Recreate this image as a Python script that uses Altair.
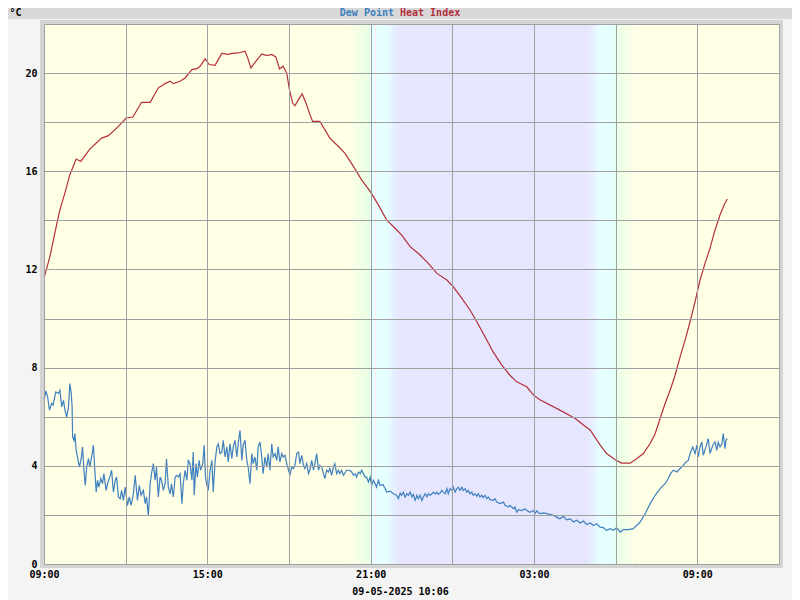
import altair as alt
import pandas as pd

# Heat index (minutes after 09:00 on 08-05-2025, degC)
hi_min = [0, 2, 13, 24, 35, 46, 57, 71, 81, 101, 127, 142, 164, 181, 196, 215, 234, 252, 267, 278, 285,
          300, 311, 326, 337, 344, 355, 364, 377, 384, 392, 406, 414, 428, 443, 449, 456, 467, 480, 491,
          502, 511, 519, 527, 535, 541, 548, 553, 561, 569, 578, 585, 592, 608, 630, 649, 663, 682, 700,
          719, 737, 755, 774, 788, 807, 829, 847, 866, 888, 902, 921, 939, 954, 972, 990, 1009, 1027,
          1042, 1064, 1079, 1092, 1137, 1170, 1204, 1226, 1240, 1259, 1273, 1292, 1306, 1321, 1336,
          1347, 1358, 1369, 1380, 1391, 1402, 1413, 1424, 1435, 1446, 1457, 1468, 1479, 1490, 1499, 1506]
hi_val = [11.7, 11.78, 12.52, 13.49, 14.43, 15.11, 15.86, 16.50, 16.40, 16.9, 17.35, 17.45, 17.83, 18.17,
          18.21, 18.81, 18.81, 19.4, 19.57, 19.67, 19.57, 19.67, 19.8, 20.14, 20.18, 20.28, 20.58, 20.35,
          20.32, 20.55, 20.8, 20.76, 20.8, 20.82, 20.89, 20.62, 20.21, 20.48, 20.78, 20.71, 20.76, 20.66,
          20.17, 20.28, 20.0, 19.33, 18.78, 18.67, 18.92, 19.16, 18.75, 18.37, 18.03, 18.03, 17.35, 17.01,
          16.74, 16.2, 15.65, 15.18, 14.63, 14.02, 13.68, 13.41, 12.93, 12.59, 12.25, 11.84, 11.57, 11.3,
          10.82, 10.35, 9.87, 9.26, 8.64, 8.1, 7.69, 7.42, 7.22, 6.88, 6.7, 6.27, 5.94, 5.45, 4.84, 4.5,
          4.25, 4.11, 4.11, 4.29, 4.5, 4.91, 5.31, 5.93, 6.54, 7.08, 7.69, 8.44, 9.12, 9.87, 10.69, 11.57,
          12.25, 12.87, 13.61, 14.22, 14.63, 14.87]

# Dew point (minutes after 09:00, degC)
dp_min = [0, 1, 4, 8, 12, 17, 20, 26, 32, 35, 39, 43, 46, 50, 54, 57, 60, 62, 63, 66, 68, 71, 73, 78, 82,
          85, 88, 91, 94, 98, 101, 105, 109, 112, 115, 118, 121, 125, 129, 132, 137, 140, 145, 149, 153,
          157, 160, 164, 168, 171, 175, 179, 184, 188, 192, 197, 201, 206, 210, 214, 219, 223, 226, 230,
          234, 237, 241, 245, 248, 252, 256, 259, 263, 267, 270, 274, 278, 281, 285, 289, 292, 296, 300,
          304, 307, 311, 315, 318,
          322, 326, 329, 331, 335, 338, 342, 345, 350, 353, 356, 359, 362, 366, 370, 373, 377, 381, 384,
          388, 392, 395, 399, 403, 406, 410, 414, 417, 421, 425, 428, 432, 436, 439, 443, 447, 450, 454,
          458, 461, 465, 469, 472, 476, 480, 483, 487, 491, 494, 498, 502, 505, 509, 513, 516, 520, 524,
          527, 531, 535, 539, 542, 546, 550, 553, 557, 561, 564, 568, 572, 575, 579, 583, 586, 590, 594,
          597, 601, 605, 608, 612, 616, 619, 623, 627, 630, 634, 638, 641, 645, 649, 652, 656, 660, 667,
          674, 678, 682, 686, 689, 693, 697, 700, 704, 708, 711, 715, 719, 722, 726, 730, 733, 737,
          741, 747, 752, 755, 763, 770, 777, 781, 785, 788, 792, 796, 800, 803, 807, 811, 814, 818, 822,
          825, 829, 833, 836, 840, 844, 847, 851, 855, 858, 862, 866, 869, 873, 877, 880, 884, 888, 891,
          895, 899, 902, 906, 910, 913, 917, 921, 924, 928, 932, 935, 939, 943, 946, 950, 954, 957, 961,
          965, 968, 972, 976, 979, 983, 990, 994, 998, 1005, 1013, 1016, 1024, 1027, 1035, 1038, 1042,
          1046, 1053, 1060, 1064, 1071, 1079, 1082, 1086, 1093, 1101, 1108, 1115, 1123, 1130, 1137, 1145,
          1152, 1160, 1167, 1174, 1182, 1189, 1196, 1204, 1211, 1218, 1226, 1233, 1240, 1248, 1255, 1262,
          1270, 1277, 1288, 1299, 1306,
          1314, 1325, 1336, 1347, 1358, 1369, 1376, 1381, 1387, 1395, 1402, 1409, 1415, 1420, 1424, 1430,
          1435, 1439, 1442, 1446, 1450, 1453, 1459, 1464, 1468, 1474, 1479, 1483, 1486, 1490, 1494, 1497,
          1501, 1503, 1506]
dp_val = [6.8, 6.74, 7.05, 6.81, 6.27, 6.54, 6.47, 7.01, 6.95, 7.08, 6.4, 6.67, 6.29, 5.99, 6.4, 7.35, 6.95,
          6.4, 5.18, 5.04, 5.31, 4.63, 4.43, 3.95, 4.29, 4.77, 3.82, 3.2, 3.95, 4.29, 3.95, 4.36, 4.84, 3.82,
          2.93, 3.41, 3.13, 3.48, 3.27, 3.68, 3.0, 3.27, 3.54, 3.82, 2.93, 3.41, 3.54, 2.73, 2.66, 3.0, 2.59,
          3.13, 2.39, 2.73, 2.39, 2.86, 3.61, 2.59, 3.2, 2.8, 3.0, 2.46, 2.73, 1.98, 3.27, 3.68, 4.09, 3.41,
          3.95, 2.73, 3.54, 3.41, 3.0, 3.27, 4.29, 3.13, 2.86, 3.27, 2.73, 3.54, 3.61, 3.54, 3.68, 2.46, 3.27,
          3.82, 3.41, 4.22,
          4.09, 3.41, 4.56, 2.8, 4.09, 3.54, 4.22, 3.82, 4.09, 4.84, 3.54, 3.2, 3.0, 3.82, 4.22, 2.93, 4.16,
          4.77, 4.9, 4.5, 4.56, 5.04, 4.36, 4.77, 4.16, 4.9, 4.29, 4.77, 5.04, 4.36, 4.9, 5.45, 4.22, 4.84,
          5.04, 4.22, 3.95, 3.27, 4.5, 4.09, 4.36, 3.82, 4.77, 4.97, 4.36, 3.68, 4.36, 3.95, 4.5, 3.82, 4.9,
          4.36, 4.5, 4.22, 4.77, 4.16, 4.5, 4.36, 4.43, 4.09, 3.82, 3.61, 3.95, 3.89, 4.02, 4.5, 4.56, 4.09,
          4.43, 4.02, 3.89, 4.09, 3.68, 3.82, 4.22, 3.82, 4.09, 4.5, 3.82, 4.02, 3.95, 3.68, 3.48, 3.82,
          3.75, 3.89, 3.61, 3.95, 4.09, 3.68, 3.82, 3.68, 3.82, 3.61, 3.82, 3.82, 3.75, 3.61, 3.68, 3.54,
          3.75, 3.68, 3.82, 3.68, 3.54, 3.54, 3.34, 3.54, 3.2, 3.41, 3.27, 3.13, 3.41,
          3.2, 3.24, 3.07, 2.93, 2.97, 2.86, 2.8, 2.66, 2.89, 2.8, 2.93, 2.73, 2.86, 2.8, 2.93, 2.73, 2.84,
          2.59, 2.8, 2.66, 2.8, 2.59, 2.73, 2.86, 2.73, 2.86, 2.8, 2.86, 2.93, 2.86, 2.93, 2.84, 2.89, 3.0,
          2.93, 2.86, 3.07, 2.86, 3.07, 3.0, 3.13, 2.93, 3.07, 3.13, 3.0, 3.13, 3.0, 3.07, 2.93, 3.0, 2.86,
          2.93, 2.8, 2.86, 2.76, 2.86, 2.73, 2.8, 2.7, 2.8, 2.66, 2.73, 2.62, 2.59, 2.66, 2.52, 2.46, 2.52,
          2.39, 2.32, 2.39, 2.25, 2.32, 2.11, 2.21, 2.18, 2.25, 2.18, 2.11, 2.18, 2.05, 2.16, 2.05, 2.08,
          2.05, 2.02, 1.98, 1.91, 1.84, 1.94, 1.8, 1.84, 1.71, 1.78, 1.67, 1.75, 1.61, 1.67, 1.57, 1.64, 1.5,
          1.48, 1.37, 1.44, 1.37, 1.48, 1.3, 1.4, 1.4, 1.44, 1.57,
          1.71, 2.05, 2.46, 2.8, 3.07, 3.27, 3.48, 3.68, 3.82, 3.75, 3.89, 4.02, 4.16, 4.22, 4.5, 4.77, 4.5,
          4.84, 4.36, 4.77, 4.97, 4.43, 4.77, 5.11, 4.5, 4.84, 4.97, 4.63, 4.97, 4.77, 4.9, 5.31, 4.7, 5.04,
          5.11]

# Background bands (minutes after 09:00)
band_kind = ["day", "dusk", "night", "dawn", "day"]
band_from = [0, 673, 782, 1196, 1306]
band_to = [673, 782, 1196, 1306, 1620]

x_domain = [0, 1620]                      # 09:00 -> 12:00 next day
x_grid = [0, 180, 360, 540, 720, 900, 1080, 1260, 1440, 1620]
y_grid = [0, 2, 4, 6, 8, 10, 12, 14, 16, 18, 20, 22]

DAY = "#ffffe6"
NIGHT = "#e6e6ff"
GREEN = "#e6ffe6"
CYAN = "#e6ffff"
PINK = "#ffe8ee"
BLUE = "#3f80bf"
RED = "#b3303a"
FONT = "DejaVu Sans Mono"

hi_df = pd.DataFrame({"m": hi_min, "v": hi_val})
dp_df = pd.DataFrame({"m": dp_min, "v": dp_val})
band_df = pd.DataFrame({"kind": band_kind, "m0": band_from, "m1": band_to})

x_scale = alt.Scale(domain=x_domain, nice=False, zero=False)
y_scale = alt.Scale(domain=[0, 22], nice=False)

hour_expr = "((9 + datum.value / 60) % 24)"
x_axis = alt.Axis(
    title="09-05-2025 10:06",
    values=x_grid,
    labelExpr=f"datum.value % 360 == 0 ? ({hour_expr} < 10 ? '0' : '') + {hour_expr} + ':00' : ''",
    labelFlush=False, labelOverlap=False, ticks=False, domain=False,
    grid=True, gridColor="#a0a0a0", gridWidth=1, gridOpacity=1,
    labelFont=FONT, labelFontWeight="bold", labelFontSize=10, labelColor="black", labelPadding=5,
    titleFont=FONT, titleFontWeight="bold", titleFontSize=10, titleColor="black",
    titleX=356, titleY=22, titleAlign="center", titleBaseline="top",
    zindex=1,
)
y_axis = alt.Axis(
    values=y_grid,
    labelExpr="datum.value % 4 == 0 ? datum.label : ''",
    ticks=False, domain=False, labelOverlap=False,
    grid=True, gridColor="#a0a0a0", gridWidth=1, gridOpacity=1,
    labelFont=FONT, labelFontWeight="bold", labelFontSize=10, labelColor="black", labelPadding=7,
    title="°C", titleAngle=0, titleX=-29, titleY=-12, titleAlign="center", titleBaseline="middle",
    titleFont=FONT, titleFontWeight="bold", titleFontSize=10, titleColor="black",
    zindex=1,
)


def grad(stops):
    return alt.LinearGradient(
        gradient="linear", x1=0, x2=1, y1=0, y2=0,
        stops=[alt.GradientStop(offset=o, color=c) for o, c in stops],
    )


dusk_grad = grad([(0.0, DAY), (0.42, GREEN), (0.44, CYAN), (0.52, CYAN), (0.53, PINK),
                  (0.545, CYAN), (0.75, CYAN), (1.0, NIGHT)])
dawn_grad = grad([(0.0, NIGHT), (0.27, CYAN), (0.57, CYAN), (0.58, GREEN), (1.0, DAY)])

solid_df = band_df[band_df["kind"].isin(["day", "night"])]
dusk_df = band_df[band_df["kind"] == "dusk"]
dawn_df = band_df[band_df["kind"] == "dawn"]

solid = alt.Chart(solid_df).mark_rect().encode(
    x=alt.X("m0:Q", scale=x_scale, axis=x_axis),
    x2="m1:Q",
    y=alt.value(0), y2=alt.value(540),
    color=alt.Color("kind:N", scale=alt.Scale(domain=["day", "night"], range=[DAY, NIGHT]), legend=None),
)
dusk = alt.Chart(dusk_df).mark_rect(fill=dusk_grad).encode(
    x=alt.X("m0:Q", scale=x_scale), x2="m1:Q", y=alt.value(0), y2=alt.value(540))
dawn = alt.Chart(dawn_df).mark_rect(fill=dawn_grad).encode(
    x=alt.X("m0:Q", scale=x_scale), x2="m1:Q", y=alt.value(0), y2=alt.value(540))

dp_line = alt.Chart(dp_df).mark_line(color=BLUE, strokeWidth=1.2).encode(
    x=alt.X("m:Q", scale=x_scale),
    y=alt.Y("v:Q", scale=y_scale, axis=y_axis),
)
hi_line = alt.Chart(hi_df).mark_line(color=RED, strokeWidth=1.2).encode(
    x=alt.X("m:Q", scale=x_scale),
    y=alt.Y("v:Q", scale=y_scale),
)

one = alt.Data(values=[{}])
title_band = alt.Chart(one).mark_rect(color="#d8d8d8").encode(
    x=alt.value(-36), x2=alt.value(748), y=alt.value(-16), y2=alt.value(-5))
t_dp = alt.Chart(one).mark_text(text="Dew Point", color=BLUE, font=FONT, fontWeight="bold", fontSize=10,
                                align="right", baseline="middle").encode(x=alt.value(350), y=alt.value(-11))
t_hi = alt.Chart(one).mark_text(text="Heat Index", color=RED, font=FONT, fontWeight="bold", fontSize=10,
                                align="left", baseline="middle").encode(x=alt.value(356), y=alt.value(-11))

chart = alt.layer(solid, dusk, dawn, dp_line, hi_line, title_band, t_dp, t_hi).properties(
    width=735, height=540,
    autosize=alt.AutoSizeParams(type="none"),
    padding={"left": 36, "top": 16, "right": 13, "bottom": 36},
    background="#f4f4f4",
).configure_view(stroke="#d4d4d4", strokeWidth=8)

chart.save("out.html", embed_options={"renderer": "svg", "actions": False})
